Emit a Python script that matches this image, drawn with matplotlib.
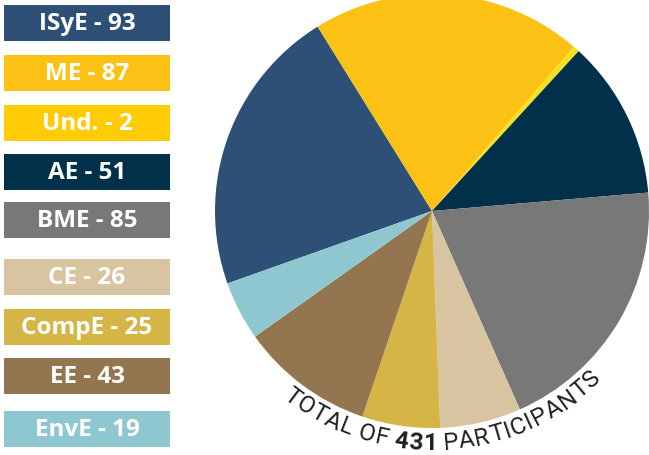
import numpy as np
import matplotlib
matplotlib.use('Agg')
import matplotlib.pyplot as plt
from matplotlib.patches import Rectangle
from matplotlib.font_manager import FontProperties, fontManager

# ---- data ----
departments = ['ISyE', 'ME', 'Und.', 'AE', 'BME', 'CE', 'CompE', 'EE', 'EnvE']
counts = [93, 87, 2, 51, 85, 26, 25, 43, 19]
pie_colors = ['#2E4F76', '#FCC115', '#F3E21E', '#01304A', '#787878',
              '#D9C4A1', '#D5B545', '#93754F', '#8FC7D0']
legend_colors = ['#2E4F76', '#FCC115', '#FFCB05', '#01304A', '#787878',
                 '#D9C4A1', '#D5B545', '#93754F', '#8FC7D0']
total_prefix = 'TOTAL OF '
total_value = str(sum(counts))
total_suffix = ' PARTICIPANTS'

W, H = 649, 455
fig = plt.figure(figsize=(W / 100, H / 100), dpi=100)
ax = fig.add_axes([0, 0, 1, 1])

cx, cy, R = 432, H - 211, 217
ax.pie(counts, colors=pie_colors, startangle=199.5, counterclock=False,
       center=(cx, cy), radius=R, wedgeprops=dict(linewidth=0, edgecolor='none'))
ax.set_xlim(0, W)
ax.set_ylim(0, H)
ax.set_aspect('equal')
ax.axis('off')

# ---- legend boxes ----
box_tops = [5, 55, 105, 154, 202, 259, 309, 358, 411]
box_h = 36
box_x, box_w = 4, 166
for name, c, col, top in zip(departments, counts, legend_colors, box_tops):
    ax.add_patch(Rectangle((box_x, H - top - box_h), box_w, box_h,
                           facecolor=col, edgecolor='none'))
    ax.text(box_x + box_w / 2, H - top - box_h / 2 - 1, f'{name} - {c}',
            ha='center', va='center', color='white', fontsize=17.5,
            fontweight='bold', family=['Open Sans', 'DejaVu Sans'])

# ---- curved total text ----
names = {f.name for f in fontManager.ttflist}
if 'Liberation Sans Narrow' in names:
    fp_reg = FontProperties(family='Liberation Sans Narrow', size=19)
    fp_bold = FontProperties(family='Liberation Sans Narrow', size=19, weight='bold')
else:
    fp_reg = FontProperties(family=['Roboto', 'DejaVu Sans'], size=17.5, weight='normal')
    fp_bold = FontProperties(family=['Roboto', 'DejaVu Sans'], size=17.5, weight='bold')

chars = [(ch, fp_reg) for ch in total_prefix] + \
        [(ch, fp_bold) for ch in total_value] + \
        [(ch, fp_reg) for ch in total_suffix]

renderer = fig.canvas.get_renderer()
widths = []
for ch, fp in chars:
    if ch == ' ':
        widths.append(5.0)
    else:
        w, h, d = renderer.get_text_width_height_descent(ch, fp, ismath=False)
        widths.append(w)

r_text = 239
a_start, a_end = np.deg2rad(-127.0), np.deg2rad(-46.5)
span = (a_end - a_start) * r_text
inner = sum(widths) - widths[0] / 2 - widths[-1] / 2
track = (span - inner) / (len(chars) - 1)
pos = 0.0
for i, (ch, fp) in enumerate(chars):
    if i > 0:
        pos += widths[i - 1] / 2 + track + widths[i] / 2
    th = a_start + pos / r_text
    if ch == ' ':
        continue
    x = cx + r_text * np.cos(th)
    y = cy + r_text * np.sin(th)
    ax.text(x, y, ch, fontproperties=fp, color='#231F20',
            rotation=np.rad2deg(th) + 90, rotation_mode='anchor',
            ha='center', va='baseline')

fig.savefig('out.png', dpi=100)
